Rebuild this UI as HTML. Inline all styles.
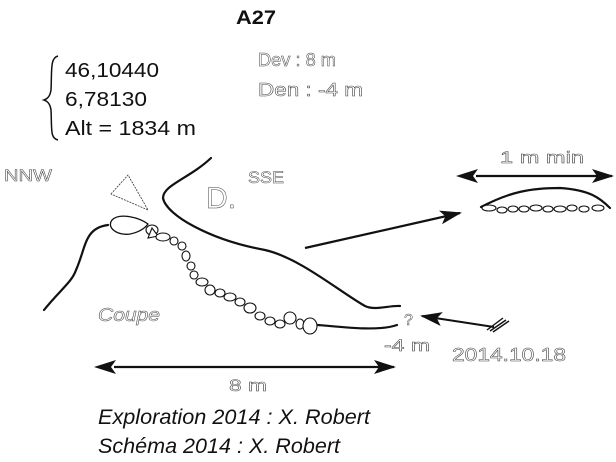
<!DOCTYPE html>
<html><head><meta charset="utf-8"><style>
html,body{margin:0;padding:0;background:#fff;width:616px;height:462px;overflow:hidden}
svg{display:block}
.o{fill:#fff;stroke:#444;stroke-width:0.5;font-family:"Liberation Sans",sans-serif}
.k{fill:#111;font-family:"Liberation Sans",sans-serif}
.w{fill:none;stroke:#111;stroke-width:2.2;stroke-linecap:round}
.p{fill:#fff;stroke:#111;stroke-width:1.1}
</style></head><body>
<svg width="616" height="462" viewBox="0 0 616 462">
<defs>
<marker id="ah2" markerWidth="22" markerHeight="14" refX="20" refY="7" orient="auto" markerUnits="userSpaceOnUse"><path d="M0,0 L22,7 L0,14 L5,7Z" fill="#111"/></marker>
<marker id="as" markerWidth="22" markerHeight="14" refX="2" refY="7" orient="auto-start-reverse" markerUnits="userSpaceOnUse"><path d="M0,0 L22,7 L0,14 L5,7Z" fill="#111"/></marker></defs>
<text x="236" y="24" class="k" font-weight="bold" font-size="19" textLength="40" lengthAdjust="spacingAndGlyphs">A27</text>
<path d="M58,56 C50,58 52,70 51,90 C50,97 47,99 44,100 C47,101 50,103 51,110 C52,130 50,138 58,140" fill="none" stroke="#111" stroke-width="1.5"/>
<text x="65" y="77" class="k" font-size="20" textLength="94" lengthAdjust="spacingAndGlyphs">46,10440</text>
<text x="65" y="106" class="k" font-size="20" textLength="82" lengthAdjust="spacingAndGlyphs">6,78130</text>
<text x="65" y="135" class="k" font-size="20" textLength="131" lengthAdjust="spacingAndGlyphs">Alt = 1834 m</text>
<text x="258" y="66" class="o" font-size="18" textLength="78" lengthAdjust="spacingAndGlyphs">Dev : 8 m</text>
<text x="258" y="96" class="o" font-size="18" textLength="105" lengthAdjust="spacingAndGlyphs">Den : -4 m</text>
<text x="4" y="181" class="o" font-size="17" textLength="48" lengthAdjust="spacingAndGlyphs">NNW</text>
<text x="248" y="183" class="o" font-size="17" textLength="36" lengthAdjust="spacingAndGlyphs">SSE</text>
<text x="206" y="208" class="o" font-size="30">D.</text>
<path d="M111,194 L128,175 L148,210 Z" fill="none" stroke="#333" stroke-width="0.8" stroke-dasharray="2,1"/>
<path class="w" d="M44,310 C60,290 72,282 76,270 C86,248 84,228 108,225"/>
<path class="w" style="stroke-width:1.3" d="M148,224 C140,218 120,212 112,220 C106,228 118,236 130,234 C140,232 145,228 148,224"/>
<path class="w" d="M211,158 C190,178 163,185 163,198 C166,215 210,240 265,250 C300,258 340,292 365,306 C375,311 390,305 400,306"/>
<path class="w" d="M318,325 C350,328 380,331 397,325"/>
<g>
<ellipse class="p" cx="152" cy="230" rx="6" ry="5"/><path class="p" d="M148,238 L152,228 L158,236Z"/>
<ellipse class="p" cx="163" cy="237" rx="7" ry="4"/><ellipse class="p" cx="174" cy="241" rx="4" ry="4"/>
<ellipse class="p" cx="182" cy="246" rx="4" ry="4"/><ellipse class="p" cx="186" cy="256" rx="4" ry="5"/>
<ellipse class="p" cx="191" cy="266" rx="4" ry="4"/><ellipse class="p" cx="194" cy="275" rx="4" ry="4"/>
<ellipse class="p" cx="202" cy="282" rx="6" ry="4"/><ellipse class="p" cx="210" cy="290" rx="5" ry="5"/>
<ellipse class="p" cx="220" cy="293" rx="5" ry="4"/><ellipse class="p" cx="230" cy="297" rx="6" ry="4"/>
<ellipse class="p" cx="240" cy="302" rx="5" ry="4"/><ellipse class="p" cx="250" cy="308" rx="6" ry="5"/>
<ellipse class="p" cx="260" cy="316" rx="5" ry="4"/><ellipse class="p" cx="270" cy="321" rx="5" ry="4"/>
<ellipse class="p" cx="280" cy="324" rx="5" ry="4"/><ellipse class="p" cx="290" cy="318" rx="6" ry="6"/>
<ellipse class="p" cx="300" cy="324" rx="4" ry="5"/><ellipse class="p" cx="310" cy="326" rx="7" ry="8"/>
</g>
<text x="98" y="321" class="o" font-size="18" font-style="italic" textLength="62" lengthAdjust="spacingAndGlyphs">Coupe</text>
<line x1="305" y1="248" x2="460" y2="213" stroke="#111" stroke-width="2.2" marker-end="url(#ah2)"/>
<line x1="476" y1="176" x2="612" y2="176" stroke="#111" stroke-width="2.2" marker-start="url(#as)" marker-end="url(#ah2)"/>
<text x="500" y="163" class="o" font-size="17" textLength="84" lengthAdjust="spacingAndGlyphs">1 m min</text>
<path class="w" d="M481,207 C510,192 530,188 560,188 C590,190 600,198 610,208"/>
<g>
<ellipse class="p" cx="489" cy="208" rx="7" ry="3"/><ellipse class="p" cx="502" cy="210" rx="5" ry="3"/><ellipse class="p" cx="513" cy="209" rx="5" ry="3"/><ellipse class="p" cx="524" cy="209" rx="5" ry="3"/><ellipse class="p" cx="536" cy="208" rx="6" ry="3"/><ellipse class="p" cx="548" cy="209" rx="5" ry="3"/><ellipse class="p" cx="560" cy="209" rx="6" ry="3"/><ellipse class="p" cx="572" cy="208" rx="5" ry="3"/><ellipse class="p" cx="584" cy="209" rx="5" ry="3"/><ellipse class="p" cx="598" cy="208" rx="6" ry="3"/>
</g>
<text x="404" y="325" class="o" font-size="16">?</text>
<line x1="494" y1="327" x2="422" y2="316" stroke="#111" stroke-width="2" marker-end="url(#ah2)"/>
<path d="M487,330 L503,318 M490,331 L506,320 M493,332 L509,321" stroke="#111" stroke-width="1.4"/>
<text x="384" y="351" class="o" font-size="17" textLength="46" lengthAdjust="spacingAndGlyphs">-4 m</text>
<text x="452" y="361" class="o" font-size="18" textLength="114" lengthAdjust="spacingAndGlyphs">2014.10.18</text>
<line x1="114" y1="367" x2="394" y2="367" stroke="#111" stroke-width="2.2" marker-start="url(#as)" marker-end="url(#ah2)"/>
<text x="229" y="391" class="o" font-size="17" textLength="38" lengthAdjust="spacingAndGlyphs">8 m</text>
<text x="98" y="424" class="k" font-size="21" font-style="italic" textLength="272" lengthAdjust="spacingAndGlyphs">Exploration 2014 : X. Robert</text>
<text x="98" y="453" class="k" font-size="21" font-style="italic" textLength="242" lengthAdjust="spacingAndGlyphs">Schéma 2014 : X. Robert</text>
</svg>
</body></html>
